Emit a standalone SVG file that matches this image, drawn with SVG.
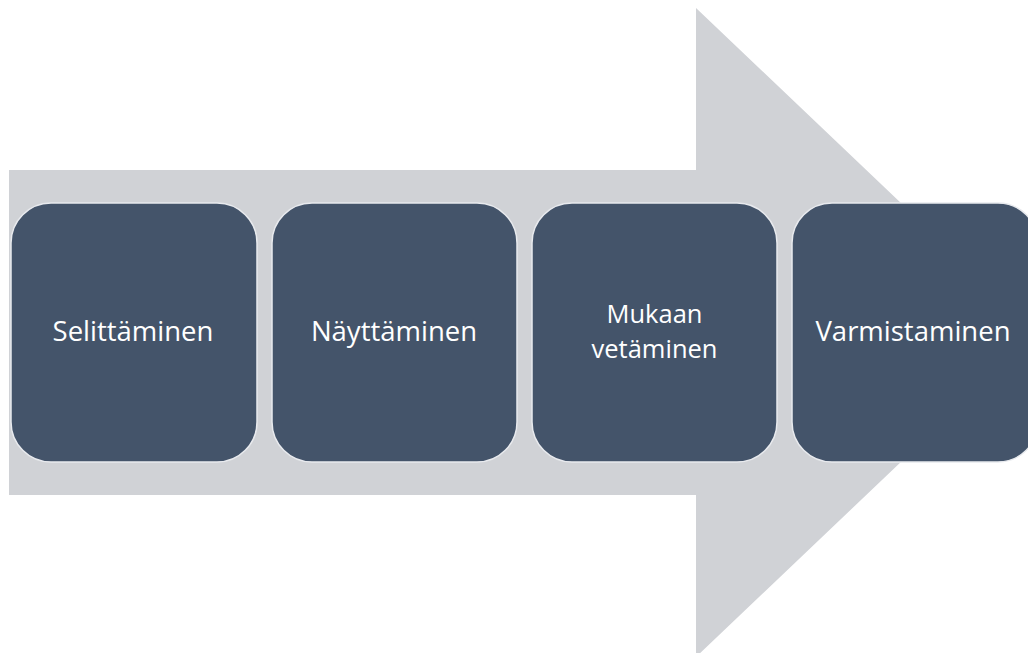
<svg xmlns="http://www.w3.org/2000/svg" width="1028" height="653" viewBox="0 0 1028 653">
<style>
.box{fill:#44546A;stroke:#E8EAEE;stroke-width:1.5}
.lbl{fill:#FFFFFF;font-family:"Open Sans","Noto Sans",sans-serif;font-size:27.5px;text-anchor:middle}
.lbl2{font-size:25.5px}
</style>
<rect width="1028" height="653" fill="#FFFFFF"/>
<g id="arrow">
<polygon points="9,170 696,170 696,8 1037,332.5 696,657 696,495 9,495" fill="#D0D2D6"/>
</g>
<g id="connectors"></g>
<g id="n1"><rect class="box" x="11" y="203" width="246" height="259" rx="40"/><text class="lbl" x="133" y="341">Selittäminen</text></g>
<g id="n2"><rect class="box" x="272" y="203" width="245" height="259" rx="40"/><text class="lbl" x="394" y="341">Näyttäminen</text></g>
<g id="n3"><rect class="box" x="532" y="203" width="245" height="259" rx="40"/><text class="lbl lbl2" x="654.5" y="323">Mukaan</text><text class="lbl lbl2" x="654.5" y="358">vetäminen</text></g>
<g id="n4"><rect class="box" x="792" y="203" width="246" height="259" rx="40"/><text class="lbl" x="913" y="341">Varmistaminen</text></g>
</svg>
